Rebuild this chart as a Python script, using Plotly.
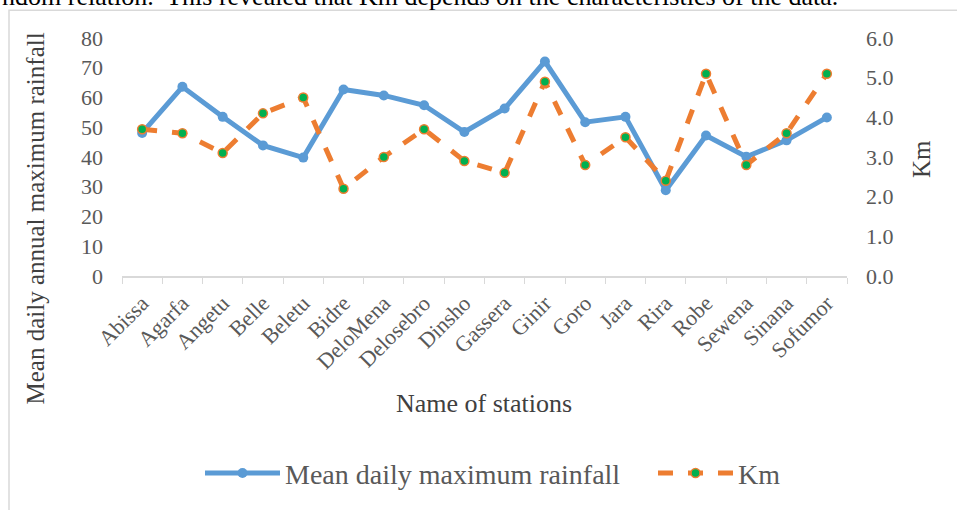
import plotly.graph_objects as go

stations = ["Abissa", "Agarfa", "Angetu", "Belle", "Beletu", "Bidre", "DeloMena", "Delosebro",
            "Dinsho", "Gassera", "Ginir", "Goro", "Jara", "Rira", "Robe", "Sewena", "Sinana", "Sofumor"]
rainfall = [48.1, 63.6, 53.5, 43.9, 39.8, 62.7, 60.7, 57.4, 48.4, 56.3, 72.1, 51.7, 53.5, 28.8, 47.2, 40.1, 45.6, 53.3]
km = [3.7, 3.6, 3.1, 4.1, 4.5, 2.2, 3.0, 3.7, 2.9, 2.6, 4.9, 2.8, 3.5, 2.4, 5.1, 2.8, 3.6, 5.1]

FONT = "Liberation Serif, Times New Roman, serif"
GRAY = "#595959"
DARK = "#404040"

W, H = 957, 510
L, R, T, B = 122, 847, 38, 278


def px(x):
    return (x - L) / (R - L)


def py(y):
    return (B - y) / (B - T)


fig = go.Figure()
fig.add_trace(go.Scatter(
    x=stations, y=rainfall, name="Mean daily maximum rainfall",
    mode="lines+markers",
    line=dict(color="#5B9BD5", width=5),
    marker=dict(color="#5B9BD5", size=10),
    yaxis="y", legend="legend"))
fig.add_trace(go.Scatter(
    x=stations, y=km, name="Km",
    mode="lines+markers",
    line=dict(color="#ED7D31", width=5, dash="dash"),
    marker=dict(color="#00B050", size=9, line=dict(color="#ED7D31", width=1.5)),
    yaxis="y2", legend="legend2"))

leg_common = dict(orientation="h", yanchor="middle", xanchor="left",
                  font=dict(size=28, color=GRAY), itemwidth=75,
                  bgcolor="rgba(0,0,0,0)")

fig.update_layout(
    width=W, height=H,
    margin=dict(l=L, r=W - R, t=T, b=H - B),
    plot_bgcolor="white", paper_bgcolor="white",
    font=dict(family=FONT, color=GRAY, size=22),
    showlegend=True,
    legend=dict(x=px(200), y=py(477), **leg_common),
    legend2=dict(x=px(653), y=py(477), **leg_common),
    xaxis=dict(type="category", range=[-0.5, len(stations) - 0.5],
               showline=True, linecolor="#D9D9D9", linewidth=1.5,
               ticks="outside", tickson="boundaries", tickcolor="#D9D9D9", ticklen=6,
               tickangle=-45, showgrid=False, zeroline=False, ticklabelstandoff=4,
               tickfont=dict(size=22, color=GRAY)),
    yaxis=dict(range=[0, 80], dtick=10, showgrid=False, zeroline=False, showline=False,
               ticks="", ticklabelstandoff=18, tickfont=dict(size=22, color=GRAY)),
    yaxis2=dict(range=[0, 6], dtick=1, tickformat=".1f", overlaying="y", side="right",
                showgrid=False, zeroline=False, showline=False, ticks="",
                ticklabelstandoff=18, tickfont=dict(size=22, color=GRAY)),
    shapes=[dict(type="rect", xref="paper", yref="paper",
                 x0=px(9), x1=px(1000), y0=py(560), y1=py(10),
                 line=dict(color="#D9D9D9", width=1.5), fillcolor="rgba(0,0,0,0)",
                 layer="below")],
    annotations=[
        dict(text="ndom relation.  This revealed that Km depends on the characteristics of the data.",
             xref="paper", yref="paper", x=px(0), y=py(-4), xanchor="left", yanchor="middle",
             showarrow=False, font=dict(size=26, color="black", family=FONT)),
        dict(text="Mean daily annual maximum rainfall", xref="paper", yref="paper",
             x=px(35), y=py(220), xanchor="center", yanchor="middle", textangle=-90,
             showarrow=False, font=dict(size=25, color=DARK, family=FONT)),
        dict(text="Km", xref="paper", yref="paper",
             x=px(922), y=py(160), xanchor="center", yanchor="middle", textangle=-90,
             showarrow=False, font=dict(size=25, color=DARK, family=FONT)),
        dict(text="Name of stations", xref="paper", yref="paper",
             x=px(484), y=py(407), xanchor="center", yanchor="middle",
             showarrow=False, font=dict(size=26, color=DARK, family=FONT)),
    ],
)

fig.write_html("out.html", config={"displayModeBar": False},
               post_script="document.body.style.margin='0';document.body.style.padding='0';")
